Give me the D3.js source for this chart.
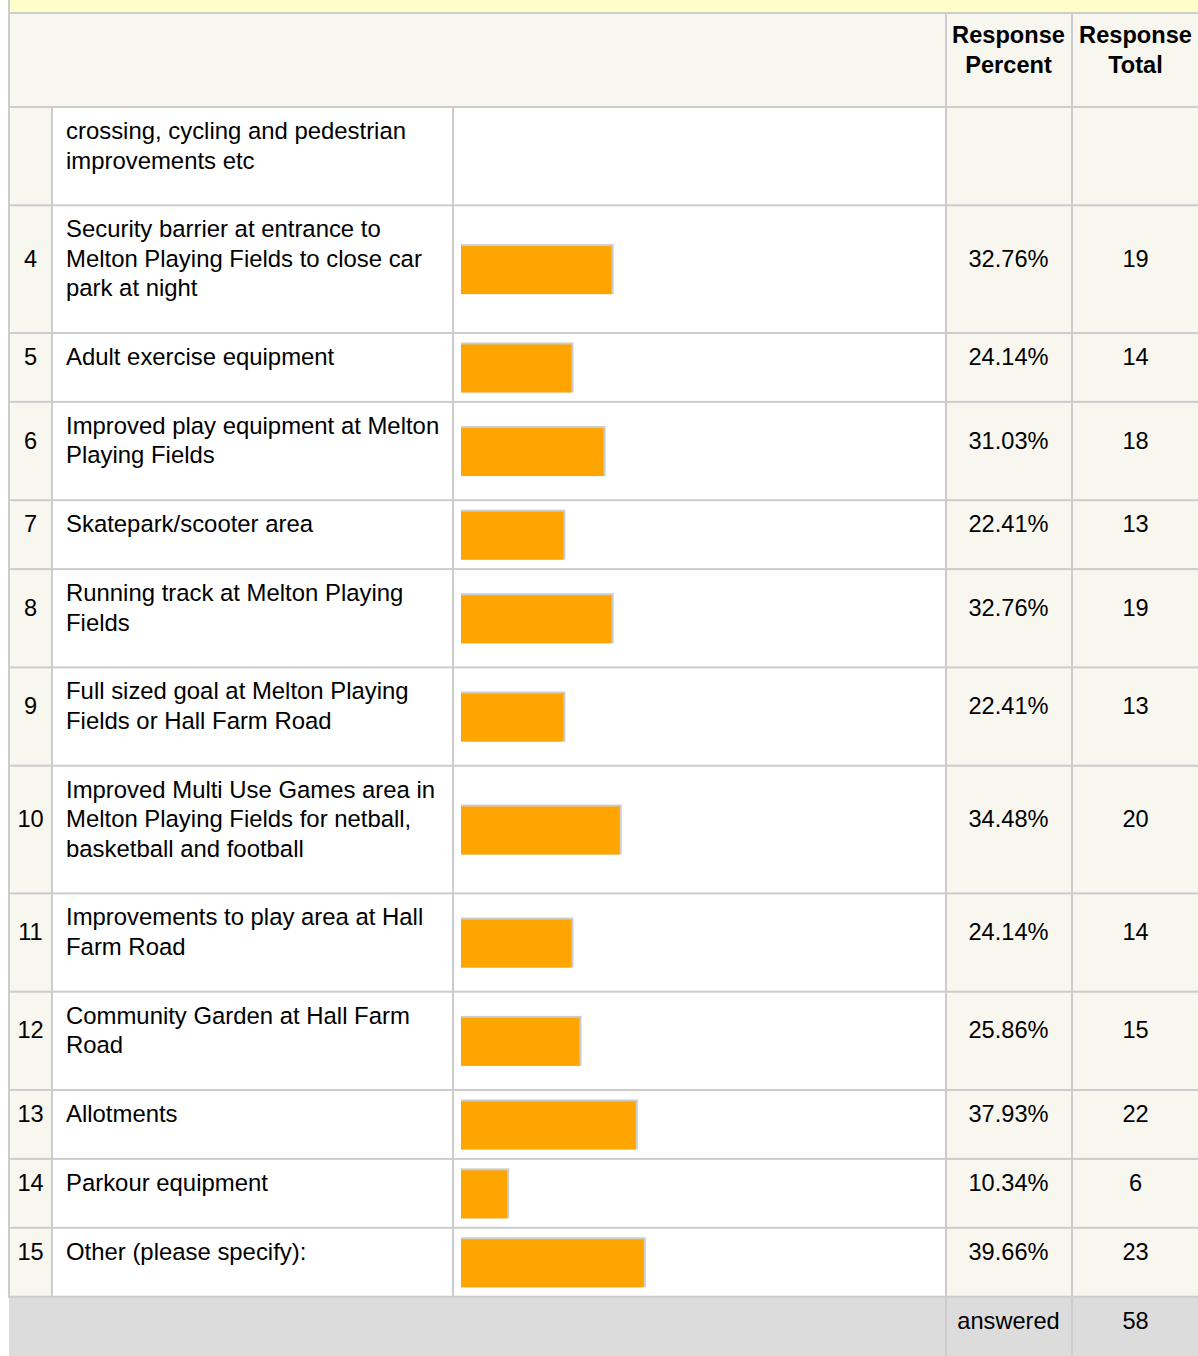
<!DOCTYPE html>
<html>
<head>
<meta charset="utf-8">
<script src="https://cdn.jsdelivr.net/npm/d3@7"></script>
<style>
  html, body { margin: 0; padding: 0; background: #fff; }
  svg { display: block; font-family: "Liberation Sans", Arial, sans-serif; }
</style>
</head>
<body>
<svg id="chart" width="1198" height="1356"></svg>
<script>
// ---- data ----
const rowNumbers = ["", "4", "5", "6", "7", "8", "9", "10", "11", "12", "13", "14", "15"];
const labels = [
  ["crossing, cycling and pedestrian", "improvements etc"],
  ["Security barrier at entrance to", "Melton Playing Fields to close car", "park at night"],
  ["Adult exercise equipment"],
  ["Improved play equipment at Melton", "Playing Fields"],
  ["Skatepark/scooter area"],
  ["Running track at Melton Playing", "Fields"],
  ["Full sized goal at Melton Playing", "Fields or Hall Farm Road"],
  ["Improved Multi Use Games area in", "Melton Playing Fields for netball,", "basketball and football"],
  ["Improvements to play area at Hall", "Farm Road"],
  ["Community Garden at Hall Farm", "Road"],
  ["Allotments"],
  ["Parkour equipment"],
  ["Other (please specify):"]
];
const percents = [null, 32.76, 24.14, 31.03, 22.41, 32.76, 22.41, 34.48, 24.14, 25.86, 37.93, 10.34, 39.66];
const totals = [null, 19, 14, 18, 13, 19, 13, 20, 14, 15, 22, 6, 23];
const headerPercent = ["Response", "Percent"];
const headerTotal = ["Response", "Total"];
const footerLabel = "answered";
const answeredTotal = 58;

// ---- layout ----
const W = 1198, H = 1356;
const lineH = 29.4, textLineH = 29.5, rowPad = 39.5;
const fs = 23.6, labelFs = 23.9;
const colX = { left: 10, num: 53, text: 454, pct: 947, tot: 1073, right: 1198 };
const lineCol = "#cccccc", offWhite = "#f7f6ef";
const headerTop = 13, headerBottom = 107;

const svg = d3.select("#chart");

// row positions
let y = headerBottom;
const rows = labels.map((lab, i) => {
  const h = rowPad + lineH * lab.length;
  const r = { i, top: y, h, lines: lab };
  y += h;
  return r;
});
const footerTop = y;

const x = d3.scaleLinear().domain([0, 100]).range([461, 461 + 466]);

// backgrounds
svg.append("rect").attr("x", 10).attr("y", 0).attr("width", W - 10).attr("height", 12).attr("fill", "#fffdc8");
svg.append("rect").attr("x", 10).attr("y", headerTop + 1).attr("width", W - 10).attr("height", headerBottom - headerTop - 2).attr("fill", offWhite);

const rg = svg.append("g").selectAll("g").data(rows).join("g");
rg.append("rect").attr("x", colX.left).attr("y", d => d.top).attr("width", colX.num - colX.left).attr("height", d => d.h).attr("fill", offWhite);
rg.append("rect").attr("x", colX.pct).attr("y", d => d.top).attr("width", W - colX.pct).attr("height", d => d.h).attr("fill", offWhite);

svg.append("rect").attr("x", 9).attr("y", footerTop).attr("width", W - 9).attr("height", H - footerTop).attr("fill", "#dcdcdc");

// bars
const barRows = rows.filter(d => percents[d.i] != null);
const bg = svg.append("g").selectAll("g").data(barRows).join("g");
bg.append("rect")
  .attr("x", x(0)).attr("y", d => d.top + d.h / 2 - 25)
  .attr("width", d => x(percents[d.i]) - x(0)).attr("height", 50)
  .attr("fill", "#cccccc");
bg.append("rect")
  .attr("x", x(0)).attr("y", d => d.top + d.h / 2 - 23)
  .attr("width", d => x(percents[d.i]) - x(0) - 2).attr("height", 48)
  .attr("fill", "#ffa500");

// grid lines
const lines = svg.append("g").attr("fill", lineCol);
lines.append("rect").attr("x", 8).attr("y", 0).attr("width", 2).attr("height", footerTop + 1);
[headerTop, headerBottom, ...rows.map(r => r.top + r.h)].forEach(yy => {
  lines.append("rect").attr("x", 8).attr("y", yy - 1).attr("width", W - 8).attr("height", 2);
});
lines.append("rect").attr("x", 51).attr("y", headerBottom).attr("width", 2).attr("height", footerTop - headerBottom);
lines.append("rect").attr("x", 452).attr("y", headerBottom).attr("width", 2).attr("height", footerTop - headerBottom);
lines.append("rect").attr("x", 945).attr("y", headerTop).attr("width", 2).attr("height", H - headerTop);
lines.append("rect").attr("x", 1071).attr("y", headerTop).attr("width", 2).attr("height", H - headerTop);

// header text
const pctC = 1008.5;
const totC = 1135.5;
const ht = svg.append("g").attr("font-size", fs).attr("font-weight", "bold").attr("fill", "#000").attr("text-anchor", "middle");
headerPercent.forEach((t, k) => ht.append("text").attr("x", pctC).attr("y", 43 + k * 30).text(t));
headerTotal.forEach((t, k) => ht.append("text").attr("x", totC).attr("y", 43 + k * 30).text(t));

// row text
const tg = svg.append("g").attr("font-size", fs).attr("fill", "#000");
rows.forEach(r => {
  const midBase = r.top + 32 + (r.lines.length - 1) * textLineH / 2;
  r.lines.forEach((t, k) => {
    tg.append("text").attr("x", 66).attr("y", r.top + 32 + k * textLineH).attr("font-size", labelFs).text(t);
  });
  if (rowNumbers[r.i]) tg.append("text").attr("x", 30.5).attr("y", midBase).attr("text-anchor", "middle").text(rowNumbers[r.i]);
  if (percents[r.i] != null) {
    tg.append("text").attr("x", pctC).attr("y", midBase).attr("text-anchor", "middle").text(percents[r.i].toFixed(2) + "%");
    tg.append("text").attr("x", totC).attr("y", midBase).attr("text-anchor", "middle").text(totals[r.i]);
  }
});

// footer
tg.append("text").attr("x", pctC).attr("y", footerTop + 32).attr("text-anchor", "middle").text(footerLabel);
tg.append("text").attr("x", totC).attr("y", footerTop + 32).attr("text-anchor", "middle").text(answeredTotal);
</script>
</body>
</html>
